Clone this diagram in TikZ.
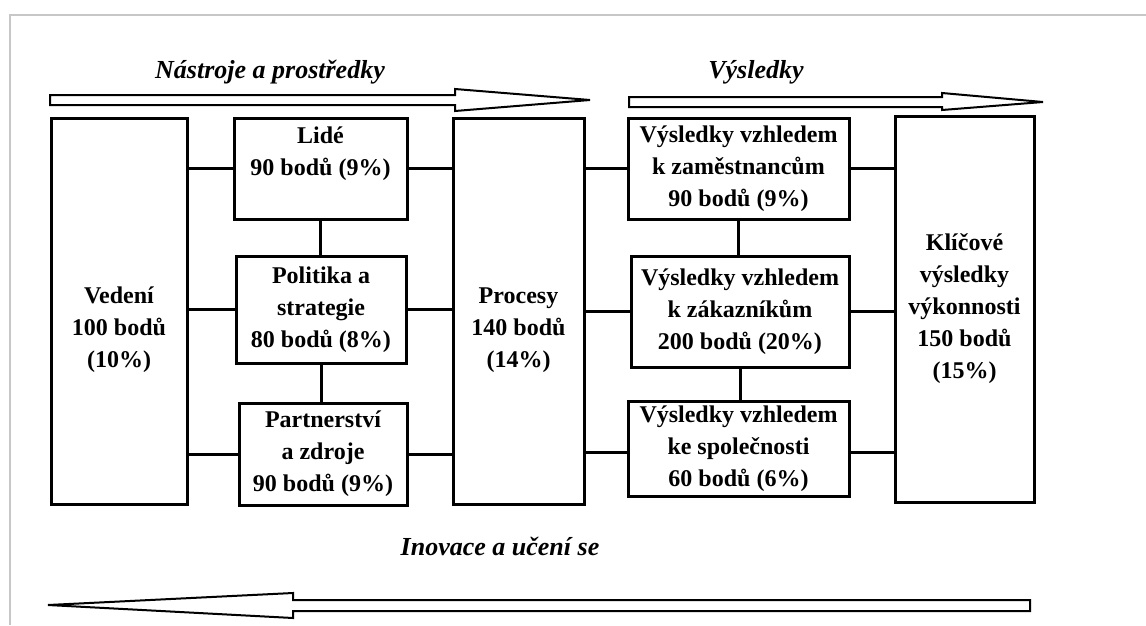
\documentclass[tikz,border=0pt]{standalone}
\usepackage{fontspec}
\setmainfont{Liberation Serif}
\usetikzlibrary{positioning}

\begin{document}
\begin{tikzpicture}
[ x=1pt, y=-1pt,
block/.style ={rectangle, draw=black, line width=3pt, fill=white,
 align=center, inner sep=0pt,
 font=\bfseries\fontsize{24}{32}\selectfont},
link/.style ={line width=3pt},
bigarrow/.style ={draw=black, line width=2pt, fill=white, line join=miter},
title/.style ={font=\bfseries\itshape\fontsize{26}{30}\selectfont, anchor=base},
]
\useasboundingbox (0,0) rectangle (1146,625);
% frame
\draw[black!22, line width=2pt] (10,625) -- (10,15) -- (1146,15);

% top and bottom arrows
\draw[bigarrow] (50,95) -- (455,95) -- (455,89) -- (590,100) -- (455,111)
  -- (455,105) -- (50,105) -- cycle;
\draw[bigarrow] (629,97) -- (942,97) -- (942,93) -- (1043,102) -- (942,110)
  -- (942,107) -- (629,107) -- cycle;
\draw[bigarrow] (1030,600) -- (293,600) -- (293,593) -- (48,605) -- (293,618)
  -- (293,611) -- (1030,611) -- cycle;

\node (tools) [title] at (270,78) {Nástroje a prostředky};
\node (results) [title] at (756,78) {Výsledky};
\node (learning) [title] at (500,555) {Inovace a učení se};

% column 1
\node (vedeni) [block, minimum width=136pt, minimum height=386pt] at (119,311)
  {\strut\\Vedení\\100 bodů\\(10\%)};
% column 2
\node (lide) [block, minimum width=173pt, minimum height=101pt] at (320.5,168.5)
  {Lidé\\90 bodů (9\%)\\[-7pt]\strut};
\node (politika) [block, minimum width=170pt, minimum height=107pt] at (321,309.5)
  {Politika a\\strategie\\80 bodů (8\%)};
\node (zdroje) [block, minimum width=168pt, minimum height=102pt] at (323,454)
  {Partnerství\\a zdroje\\90 bodů (9\%)};
% column 3
\node (procesy) [block, minimum width=131pt, minimum height=386pt] at (518.5,311)
  {\strut\\Procesy\\140 bodů\\(14\%)};
% column 4
\node (zamestnanci) [block, minimum width=221pt, minimum height=101pt] at (738.5,168.5)
  {Výsledky vzhledem\\k zaměstnancům\\90 bodů (9\%)};
\node (zakaznici) [block, minimum width=218pt, minimum height=111pt] at (740,311.5)
  {Výsledky vzhledem\\k zákazníkům\\200 bodů (20\%)};
\node (spolecnost) [block, minimum width=221pt, minimum height=95pt] at (738.5,448.5)
  {Výsledky vzhledem\\ke společnosti\\60 bodů (6\%)};
% column 5
\node (klicove) [block, minimum width=139pt, minimum height=386pt] at (964.5,309)
  {Klíčové\\výsledky\\výkonnosti\\150 bodů\\(15\%)};

% links
\draw[link] (lide.west) -- (lide.west -| vedeni.east);
\draw[link] (politika.west) -- (politika.west -| vedeni.east);
\draw[link] (zdroje.west) -- (zdroje.west -| vedeni.east);
\draw[link] (lide.east) -- (lide.east -| procesy.west);
\draw[link] (politika.east) -- (politika.east -| procesy.west);
\draw[link] (zdroje.east) -- (zdroje.east -| procesy.west);
\draw[link] (zamestnanci.west) -- (zamestnanci.west -| procesy.east);
\draw[link] (zakaznici.west) -- (zakaznici.west -| procesy.east);
\draw[link] ([yshift=-4pt]spolecnost.west) -- ([yshift=-4pt]spolecnost.west -| procesy.east);
\draw[link] (zamestnanci.east) -- (zamestnanci.east -| klicove.west);
\draw[link] (zakaznici.east) -- (zakaznici.east -| klicove.west);
\draw[link] ([yshift=-4pt]spolecnost.east) -- ([yshift=-4pt]spolecnost.east -| klicove.west);
\draw[link] (lide.south) -- (politika.north -| lide.south);
\draw[link] (politika.south) -- (zdroje.north -| politika.south);
\draw[link] (zamestnanci.south) -- (zakaznici.north -| zamestnanci.south);
\draw[link] (zakaznici.south) -- (spolecnost.north -| zakaznici.south);
\end{tikzpicture}
\end{document}
